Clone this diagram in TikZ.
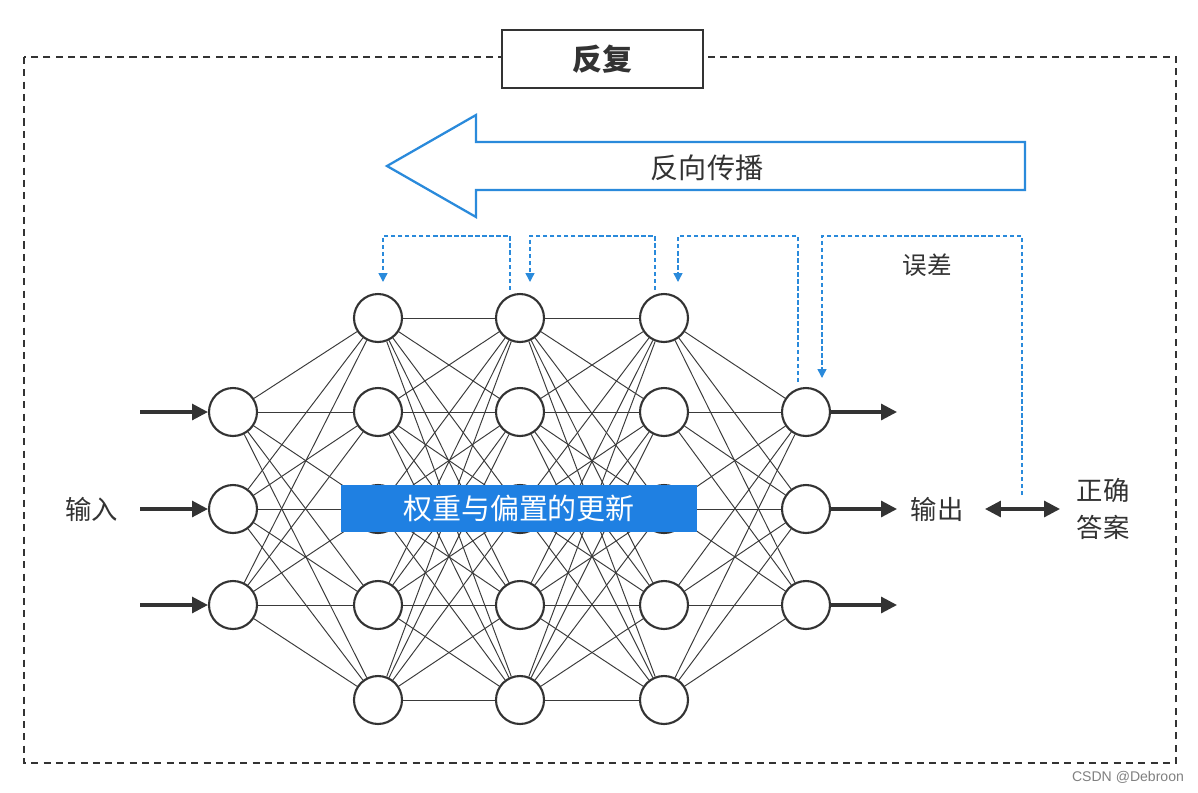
\documentclass[tikz,border=0pt]{standalone}
\usepackage{fontspec}
\setmainfont{Noto Sans CJK SC}
\newfontfamily\wmfont{Liberation Sans}
\usetikzlibrary{arrows.meta}
\definecolor{bblue}{HTML}{2A8ADB}
\definecolor{barblue}{HTML}{1F80E2}
\definecolor{dk}{HTML}{333333}
\definecolor{edge}{HTML}{3A3A3A}
\begin{document}
\begin{tikzpicture}[x=0.02cm,y=-0.02cm,
  neuron/.style={circle,draw=dk,line width=1.2pt,fill=white,minimum size=0.96cm,inner sep=0pt},
  link/.style={draw=edge,line width=0.55pt},
  inarrow/.style={draw=dk,line width=1.8pt,-{Triangle[width=9pt,length=9pt]}},
  fb/.style={draw=bblue,line width=0.8pt,dash pattern=on 2.5pt off 1.5pt,-{Triangle[width=5pt,length=5pt]}},
  lbl/.style={text=dk,font=\fontsize{15}{18}\selectfont,inner sep=0pt},
]
\useasboundingbox (0,0) rectangle (1198,792);
% outer dashed frame
\draw[dk,line width=0.9pt,dash pattern=on 4pt off 3pt] (24,57) rectangle (1176,763);
\node[draw=dk,line width=1.3pt,fill=white,minimum width=4.02cm,minimum height=1.16cm,
  font=\bfseries\fontsize{17}{20}\selectfont,text=dk] (rep) at (602.5,59) {反复};
% big back-propagation arrow
\draw[bblue,line width=1.3pt,line join=miter] (1025,142) -- (476,142) -- (476,115) -- (387,166)
  -- (476,217) -- (476,190) -- (1025,190) -- cycle;
\node[lbl,font=\fontsize{16}{19}\selectfont] (bp) at (707,168) {反向传播};
% neurons
\foreach \i/\y in {1/412,2/509,3/605} {
  \node[neuron] (a\i) at (233,\y) {};
  \node[neuron] (e\i) at (806,\y) {};
}
\foreach \l/\x in {b/378,c/520,d/664} {
  \foreach \i/\y in {1/318,2/412,3/509,4/605,5/700} {
    \node[neuron] (\l\i) at (\x,\y) {};
  }
}
% links
\foreach \i in {1,2,3} \foreach \j in {1,...,5} {
  \draw[link] (a\i) -- (b\j);
  \draw[link] (d\j) -- (e\i);
}
\foreach \i in {1,...,5} \foreach \j in {1,...,5} {
  \draw[link] (b\i) -- (c\j);
  \draw[link] (c\i) -- (d\j);
}
% update bar
\node[fill=barblue,text=white,minimum width=7.12cm,minimum height=0.94cm,inner sep=0pt,
  font=\fontsize{16.5}{19}\selectfont] (upd) at (519,508.5) {权重与偏置的更新};
% input / output arrows
\foreach \i/\y in {1/412,2/509,3/605} {
  \coordinate (in\i) at (140,\y);
  \coordinate (out\i) at (897,\y);
  \draw[inarrow] (in\i) -- (a\i);
  \draw[inarrow] (e\i) -- (out\i);
}
\node[lbl] (inp) at (92,509) {输入};
\node[lbl] (outp) at (937,509) {输出};
\node[lbl,align=center,font=\fontsize{15}{21.5}\selectfont] (ans) at (1103,509) {正确\\答案};
\draw[draw=dk,line width=1.8pt,{Triangle[width=9pt,length=9pt]}-{Triangle[width=9pt,length=9pt]}] (985,509) -- (1060,509);
% error feedback
\node[lbl,font=\fontsize{14}{17}\selectfont] (err) at (927,265) {误差};
\coordinate (f4s) at (1022,495);
\coordinate (f4e) at (822,378);
\draw[fb] (f4s) -- (1022,236) -- (822,236) -- (f4e);
\coordinate (f3s) at (798,382);
\coordinate (f3e) at (678,282);
\draw[fb] (f3s) -- (798,236) -- (678,236) -- (f3e);
\coordinate (f2s) at (655,290);
\coordinate (f2e) at (530,282);
\draw[fb] (f2s) -- (655,236) -- (530,236) -- (f2e);
\coordinate (f1s) at (510,290);
\coordinate (f1e) at (383,282);
\draw[fb] (f1s) -- (510,236) -- (383,236) -- (f1e);
% watermark
\node[text=gray,font=\wmfont\fontsize{8}{10}\selectfont,inner sep=0pt] (wm) at (1128,777) {CSDN @Debroon};
\end{tikzpicture}
\end{document}
